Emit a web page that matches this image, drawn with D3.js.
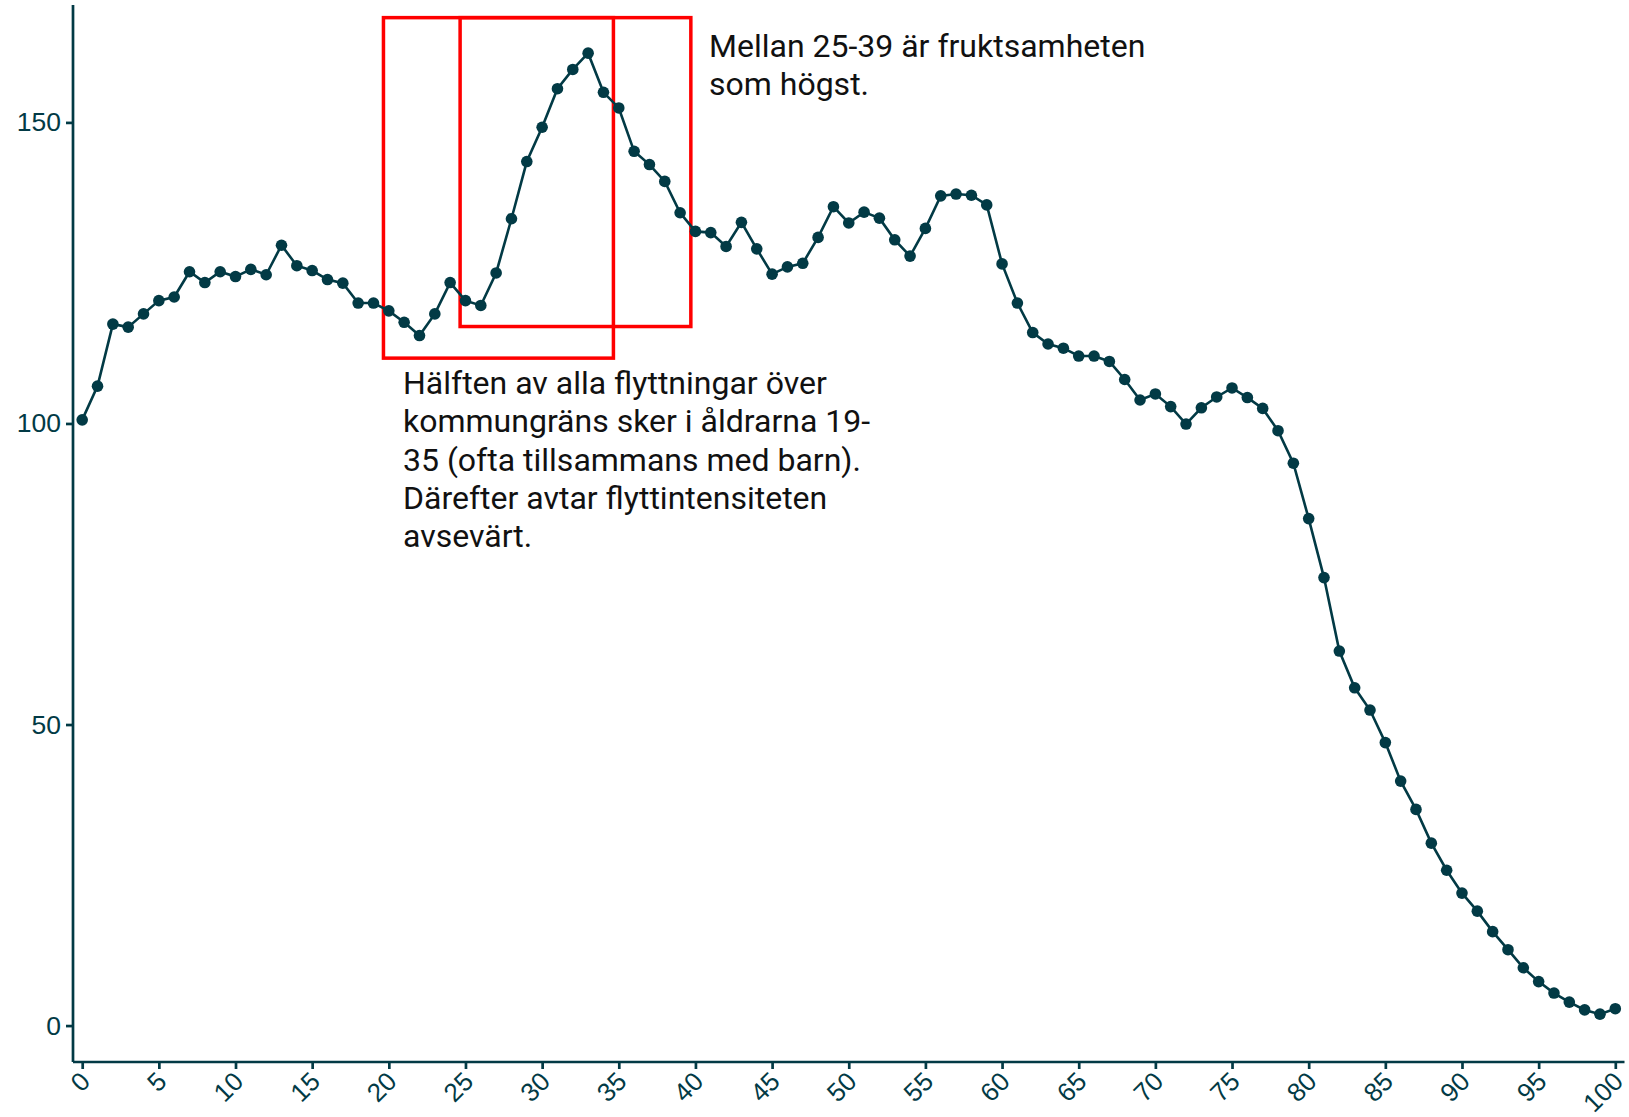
<!DOCTYPE html>
<html>
<head>
<meta charset="utf-8">
<script src="https://cdn.jsdelivr.net/npm/d3@7"></script>
<style>
  body { margin: 0; background: #fff; }
  .tick text { font-family: "Liberation Sans", Arial, sans-serif; }
  .note { font-family: Roboto, sans-serif; fill: #111; }
</style>
</head>
<body>
<svg id="chart" width="1629" height="1117"></svg>
<script>
// Age (0-100) and the index value per age
var ages = d3.range(0, 101);
var values = [
  100.6, 106.2, 116.5, 116.0, 118.2, 120.4, 121.0, 125.2, 123.4, 125.2,
  124.4, 125.6, 124.7, 129.6, 126.2, 125.4, 123.9, 123.3, 120.0, 120.0,
  118.7, 116.8, 114.6, 118.2, 123.4, 120.4, 119.6, 125.0, 134.0, 143.5,
  149.2, 155.6, 158.8, 161.5, 155.0, 152.4, 145.2, 143.0, 140.2, 135.0,
  131.9, 131.7, 129.4, 133.4, 129.0, 124.8, 126.0, 126.6, 130.9, 136.0,
  133.3, 135.1, 134.1, 130.5, 127.8, 132.4, 137.8, 138.1, 137.9, 136.3,
  126.5, 120.0, 115.1, 113.2, 112.5, 111.2, 111.2, 110.3, 107.3, 103.9,
  104.9, 102.8, 99.9, 102.6, 104.4, 105.9, 104.3, 102.5, 98.8, 93.4,
  84.2, 74.4, 62.2, 56.1, 52.4, 47.0, 40.6, 35.9, 30.3, 25.8,
  22.0, 19.0, 15.6, 12.6, 9.6, 7.3, 5.4, 3.9, 2.6, 1.9,
  2.8
];
var xTicks = d3.range(0, 101, 5);
var yTicks = [0, 50, 100, 150];

// Highlighted age spans: [xmin, xmax, ymin, ymax]
var boxes = [
  [19.65, 34.65, 110.85, 167.4],
  [24.65, 39.7, 116.1, 167.4]
];
var notes = [
  {x: 709, y: 57, lines: ["Mellan 25-39 är fruktsamheten", "som högst."]},
  {x: 403, y: 394, lines: ["Hälften av alla flyttningar över",
    "kommungräns sker i åldrarna 19-", "35 (ofta tillsammans med barn).",
    "Därefter avtar flyttintensiteten", "avsevärt."]}
];

var ink = "#023a45";
var margin = {top: 5, left: 73, bottom: 55, right: 4.5};
var svg = d3.select("#chart");
var width = +svg.attr("width"), height = +svg.attr("height");

var x = d3.scaleLinear()
          .domain([-0.6, 100.6])
          .range([margin.left, width - margin.right]);
var y = d3.scaleLinear()
          .domain([-6.05, 169.5])
          .range([height - margin.bottom, margin.top]);

var data = ages.map(function(a, i) { return {age: a, value: values[i]}; });

// red boxes behind the line
svg.append("g").selectAll("rect")
   .data(boxes)
   .enter().append("rect")
   .attr("x", function(d) { return x(d[0]); })
   .attr("y", function(d) { return y(d[3]); })
   .attr("width", function(d) { return x(d[1]) - x(d[0]); })
   .attr("height", function(d) { return y(d[2]) - y(d[3]); })
   .attr("fill", "none")
   .attr("stroke", "#ff0000")
   .attr("stroke-width", 3.5);

var line = d3.line()
             .x(function(d) { return x(d.age); })
             .y(function(d) { return y(d.value); });

svg.append("path")
   .datum(data)
   .attr("d", line)
   .attr("fill", "none")
   .attr("stroke", ink)
   .attr("stroke-width", 2.6);

svg.append("g").selectAll("circle")
   .data(data)
   .enter().append("circle")
   .attr("cx", function(d) { return x(d.age); })
   .attr("cy", function(d) { return y(d.value); })
   .attr("r", 5.8)
   .attr("fill", ink);

// axes
var xAxis = svg.append("g")
               .attr("transform", "translate(0," + (height - margin.bottom) + ")")
               .call(d3.axisBottom(x).tickValues(xTicks).tickSize(7).tickSizeOuter(0));
xAxis.selectAll("text")
     .style("text-anchor", "end")
     .attr("font-size", 26)
     .attr("dx", 0)
     .attr("dy", 0)
     .attr("y", 0)
     .attr("transform", "translate(9,21) rotate(-45)");

var yAxis = svg.append("g")
               .attr("transform", "translate(" + margin.left + ",0)")
               .call(d3.axisLeft(y).tickValues(yTicks).tickSize(7).tickSizeOuter(0));
yAxis.selectAll("text")
     .attr("font-size", 26.5)
     .attr("x", -12);

svg.selectAll(".domain, .tick line")
   .attr("stroke", ink)
   .attr("stroke-width", 2.7);
svg.selectAll(".tick text").attr("fill", ink);
svg.selectAll(".domain").attr("d", function() {
  return d3.select(this.parentNode).attr("transform").indexOf("translate(0") === 0
    ? "M" + margin.left + ",0H" + (width - margin.right)
    : "M0," + margin.top + "V" + (height - margin.bottom);
});

// annotations
notes.forEach(function(n) {
  var t = svg.append("text")
             .attr("class", "note")
             .attr("font-size", 32);
  n.lines.forEach(function(l, i) {
    t.append("tspan")
     .attr("x", n.x)
     .attr("y", n.y + i * 38.3)
     .text(l);
  });
});
</script>
</body>
</html>
